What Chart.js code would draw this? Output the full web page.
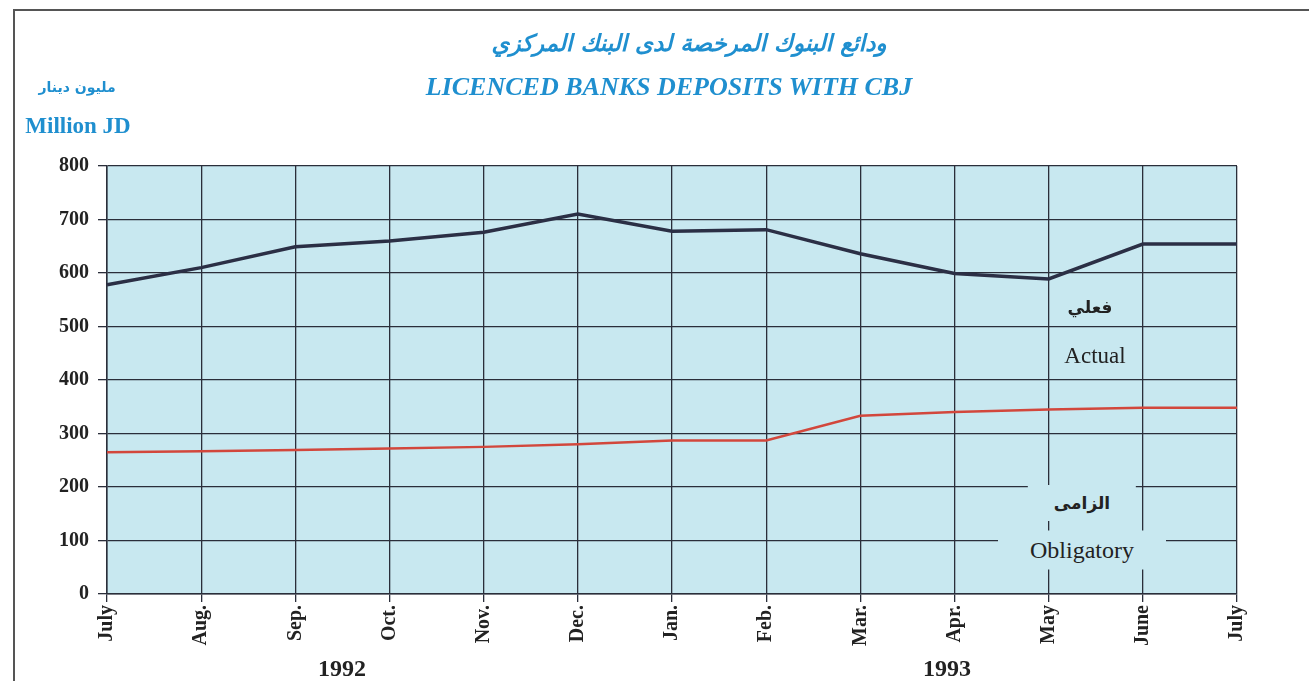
<!DOCTYPE html>
<html>
<head>
<meta charset="utf-8">
<script src="https://cdn.jsdelivr.net/npm/chart.js@4"></script>
<style>
  html, body { margin:0; padding:0; background:#fff; }
  #wrap { position:relative; width:1309px; height:681px; overflow:hidden; background:#fff; }
  #frame { position:absolute; left:13px; top:9px; width:1300px; height:680px; border-top:2px solid #555; border-left:2px solid #555; }
  canvas { position:absolute; left:0; top:0; }
  .t { position:absolute; white-space:nowrap; }
  .blue { color:#1f8fcf; }
  .ar { font-family:"DejaVu Sans", sans-serif; direction:rtl; }
  .serif { font-family:"Liberation Serif", "Times New Roman", serif; }
  .lbl { background:rgb(200,232,240); transform:translate(-50%,-50%); color:#222; }
</style>
</head>
<body>
<div id="wrap">
  <div id="frame"></div>
  <canvas id="c" width="1309" height="681"></canvas>
  <div class="t ar blue" style="left:689px; top:43px; transform:translate(-50%,-50%); font-size:23px; font-weight:bold; font-style:italic;">ودائع البنوك المرخصة لدى البنك المركزي</div>
  <div class="t serif blue" style="left:669px; top:87px; transform:translate(-50%,-50%); font-size:26px; font-weight:bold; font-style:italic;">LICENCED BANKS DEPOSITS WITH CBJ</div>
  <div class="t ar blue" style="left:77px; top:87px; transform:translate(-50%,-50%); font-size:14px; font-weight:bold;">مليون دينار</div>
  <div class="t serif blue" style="left:78px; top:126px; transform:translate(-50%,-50%); font-size:23px; font-weight:bold;">Million JD</div>
  <div class="t serif" style="left:342px; top:668px; transform:translate(-50%,-50%); font-size:24px; font-weight:bold; color:#222;">1992</div>
  <div class="t serif" style="left:947px; top:668px; transform:translate(-50%,-50%); font-size:24px; font-weight:bold; color:#222;">1993</div>
  <div class="t ar" style="left:1090px; top:307px; transform:translate(-50%,-50%); font-size:17px; font-weight:bold; color:#222;">فعلي</div>
  <div class="t serif" style="left:1095px; top:356px; transform:translate(-50%,-50%); font-size:23px; color:#222;">Actual</div>
  <div class="t ar lbl" style="left:1082px; top:503px; font-size:17px; font-weight:bold; padding:8px 26px;">الزامى</div>
  <div class="t serif lbl" style="left:1082px; top:550px; font-size:24px; padding:6px 32px;">Obligatory</div>
</div>
<script>
const months = ['July','Aug.','Sep.','Oct.','Nov.','Dec.','Jan.','Feb.','Mar.','Apr.','May','June','July'];
const actual = [578, 610, 649, 660, 676, 710, 678, 681, 636, 599, 589, 654, 654];
const obligatory = [265, 267, 269, 272, 275, 280, 287, 287, 333, 340, 345, 348, 348];
const yMin = 0, yMax = 800, yStep = 100;

const plotBg = {
  id: 'plotBg',
  beforeDraw(chart) {
    const {ctx, chartArea:a} = chart;
    ctx.save();
    ctx.fillStyle = 'rgb(200,232,240)';
    ctx.fillRect(a.left, a.top, a.right - a.left, a.bottom - a.top);
    ctx.restore();
  }
};

const gridColor = '#2a2e3a';
new Chart(document.getElementById('c'), {
  type: 'line',
  data: {
    labels: months,
    datasets: [
      { label: 'Actual', data: actual, borderColor: '#2b2f45', borderWidth: 3.5, pointRadius: 0, tension: 0 },
      { label: 'Obligatory', data: obligatory, borderColor: '#d2473c', borderWidth: 2.5, pointRadius: 0, tension: 0 }
    ]
  },
  options: {
    responsive: false,
    animation: false,
    devicePixelRatio: 1,
    layout: { padding: { top: 166, right: 72, left: 0, bottom: 0 } },
    plugins: { legend: { display: false }, tooltip: { enabled: false }, title: { display: false } },
    scales: {
      x: {
        offset: false,
        afterFit(s) { s.height = 87; },
        grid: { color: gridColor, lineWidth: 1.3, tickLength: 8, drawTicks: true },
        border: { color: gridColor, width: 1.5 },
        ticks: {
          autoSkip: false, minRotation: 90, maxRotation: 90, padding: 3,
          color: '#222', font: { family: '"Liberation Serif", serif', size: 20, weight: 'bold' }
        }
      },
      y: {
        min: yMin, max: yMax,
        afterFit(s) { s.width = 107; },
        grid: { color: gridColor, lineWidth: 1.3, tickLength: 9 },
        border: { color: gridColor, width: 1.5 },
        ticks: {
          stepSize: yStep, padding: 9, color: '#222',
          font: { family: '"Liberation Serif", serif', size: 20, weight: 'bold' }
        }
      }
    }
  },
  plugins: [plotBg]
});
</script>
</body>
</html>
